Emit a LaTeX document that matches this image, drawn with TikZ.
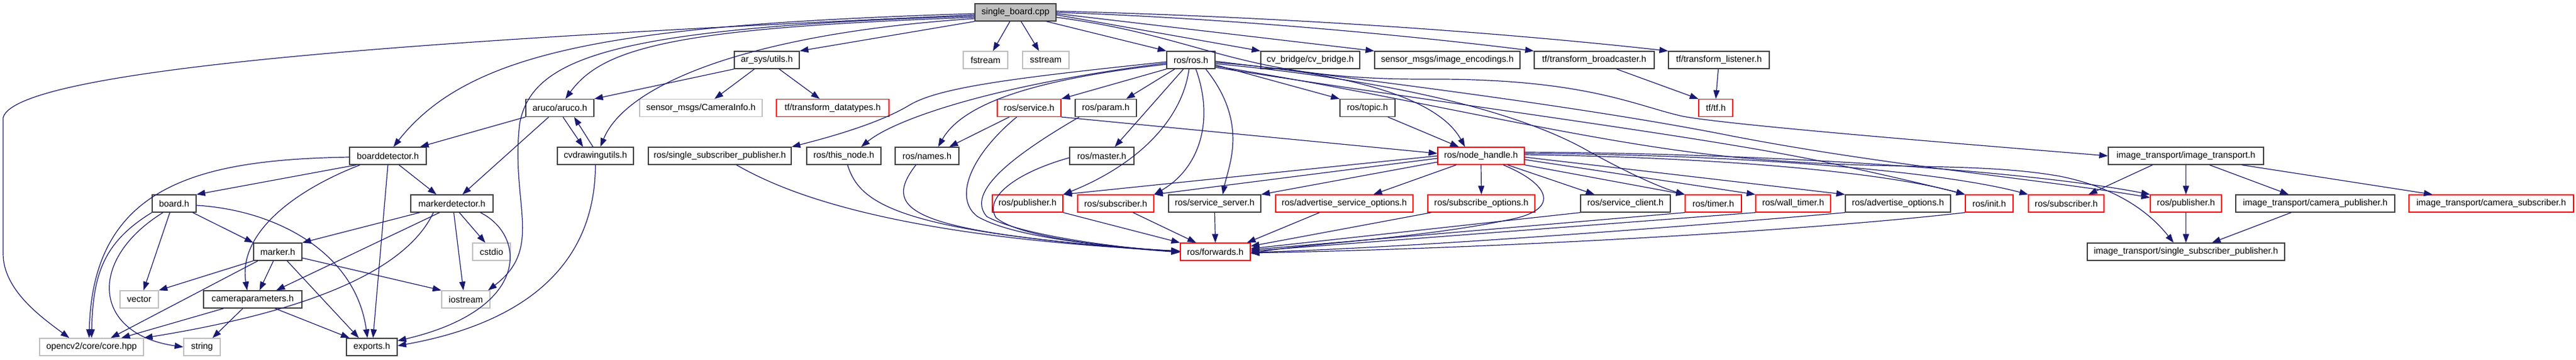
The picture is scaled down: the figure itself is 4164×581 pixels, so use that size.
\documentclass[tikz,border=0pt]{standalone}
\usepackage{fontspec}
\setmainfont{Liberation Sans}
\usetikzlibrary{arrows.meta}
\definecolor{depblue}{HTML}{191970}
\definecolor{sysgray}{HTML}{BFBFBF}
\newcommand\hdrfont{\fontsize{14.4}{17}\selectfont}
\tikzset{
  hdr/.style={draw=black!75, line width=1.3pt, fill=white, minimum height=28, inner sep=0pt, font=\hdrfont},
  syshdr/.style={hdr, draw=sysgray},
  redhdr/.style={hdr, draw=red},
  roothdr/.style={hdr, fill=sysgray},
  dep/.style={depblue, line width=1.2pt, -{Triangle[length=14pt,width=10pt]}},
}
\begin{document}
\begin{tikzpicture}[x=1pt,y=-1pt]
\useasboundingbox (0,0) rectangle (4164,581);
% row 1 and 2
\node[roothdr, minimum width=131] (root) at (1641.5,20) {single\_board.cpp};
\node[syshdr, minimum width=72] (fstream) at (1593,97) {fstream};
\node[syshdr, minimum width=75] (sstream) at (1690.5,97) {sstream};
\node[hdr, minimum width=78] (ros) at (1925,97) {ros/ros.h};
\node[hdr, minimum width=160] (cvbridge) at (2118,97) {cv\_bridge/cv\_bridge.h};
\node[hdr, minimum width=235] (imgenc) at (2339.5,97) {sensor\_msgs/image\_encodings.h};
\node[hdr, minimum width=194] (tfbroad) at (2577,97) {tf/transform\_broadcaster.h};
\node[hdr, minimum width=163] (tflisten) at (2778.5,97) {tf/transform\_listener.h};
\node[hdr, minimum width=105] (utils) at (1239.5,97) {ar\_sys/utils.h};
% row 3
\node[hdr, minimum width=110] (aruco) at (905,174.5) {aruco/aruco.h};
\node[syshdr, minimum width=198] (caminfo) at (1133,174.5) {sensor\_msgs/CameraInfo.h};
\node[redhdr, minimum width=182] (tfdata) at (1346,174.5) {tf/transform\_datatypes.h};
\node[redhdr, minimum width=103] (service) at (1663.5,174.5) {ros/service.h};
\node[hdr, minimum width=99] (param) at (1787.5,174.5) {ros/param.h};
\node[hdr, minimum width=89] (topic) at (2210.5,174.5) {ros/topic.h};
\node[redhdr, minimum width=55] (tf) at (2773.5,174.5) {tf/tf.h};
% row 4
\node[hdr, minimum width=124] (boarddet) at (627,252) {boarddetector.h};
\node[hdr, minimum width=123] (cvdraw) at (962.5,252) {cvdrawingutils.h};
\node[hdr, minimum width=231] (rsspub) at (1163.5,252) {ros/single\_subscriber\_publisher.h};
\node[hdr, minimum width=120] (thisnode) at (1364,252) {ros/this\_node.h};
\node[hdr, minimum width=103] (names) at (1498.5,252) {ros/names.h};
\node[hdr, minimum width=104] (master) at (1781,252) {ros/master.h};
\node[redhdr, minimum width=140] (nodeh) at (2394,252) {ros/node\_handle.h};
\node[hdr, minimum width=251] (imgtr) at (3533.5,252) {image\_transport/image\_transport.h};
% row 5
\node[hdr, minimum width=71] (board) at (281.5,329) {board.h};
\node[hdr, minimum width=133] (markerdet) at (730.5,329) {markerdetector.h};
\node[redhdr, minimum width=114] (pub) at (1661,329) {ros/publisher.h};
\node[redhdr, minimum width=123] (sub) at (1803.5,329) {ros/subscriber.h};
\node[hdr, minimum width=149] (srvserver) at (1963.5,329) {ros/service\_server.h};
\node[redhdr, minimum width=222] (advsrvopt) at (2173,329) {ros/advertise\_service\_options.h};
\node[redhdr, minimum width=173] (subopt) at (2394.5,329) {ros/subscribe\_options.h};
\node[hdr, minimum width=145] (srvclient) at (2627.5,329) {ros/service\_client.h};
\node[redhdr, minimum width=91] (timer) at (2769.5,329) {ros/timer.h};
\node[redhdr, minimum width=121] (walltimer) at (2898.5,329) {ros/wall\_timer.h};
\node[hdr, minimum width=170] (advopt) at (3068,329) {ros/advertise\_options.h};
\node[redhdr, minimum width=77] (init) at (3215.5,329) {ros/init.h};
\node[redhdr, minimum width=122] (subtwo) at (3340,329) {ros/subscriber.h};
\node[redhdr, minimum width=115] (pubtwo) at (3533.5,329) {ros/publisher.h};
\node[hdr, minimum width=257] (campub) at (3742.5,329) {image\_transport/camera\_publisher.h};
\node[redhdr, minimum width=266] (camsub) at (4027,329) {image\_transport/camera\_subscriber.h};
% row 6 to 8
\node[hdr, minimum width=78] (marker) at (449,407) {marker.h};
\node[syshdr, minimum width=61] (cstdio) at (794.5,407) {cstdio};
\node[redhdr, minimum width=113] (forwards) at (1964.5,407) {ros/forwards.h};
\node[hdr, minimum width=319] (itsspub) at (3533.5,407) {image\_transport/single\_subscriber\_publisher.h};
\node[syshdr, minimum width=62] (vector) at (225,484) {vector};
\node[hdr, minimum width=159] (campar) at (408.5,484) {cameraparameters.h};
\node[syshdr, minimum width=78] (iostream) at (753,484) {iostream};
\node[syshdr, minimum width=168] (opencv) at (148,561) {opencv2/core/core.hpp};
\node[syshdr, minimum width=59] (string) at (326.5,561) {string};
\node[hdr, minimum width=82] (exports) at (601,561) {exports.h};

% single_board.cpp
\draw[dep] ([yshift=-4]root.west) .. controls (900,55) and (30,100) .. (5,190) -- (5,410) .. controls (5,470) and (70,515) .. ([xshift=-36]opencv.north);
\draw[dep] ([yshift=-2]root.west) .. controls (1000,40) and (760,80) .. ([xshift=9]boarddet.north);
\draw[dep] ([yshift=-6]root.west) .. controls (1000,45) and (860,90) .. (840,200) .. controls (825,330) and (880,400) .. ([xshift=36]iostream.north);
\draw[dep] ([yshift=-8]root.west) .. controls (1100,45) and (975,75) .. ([xshift=9]aruco.north);
\draw[dep] ([yshift=-10]root.west) .. controls (1200,55) and (1010,140) .. ([xshift=8]cvdraw.north);
\draw[dep] (root.south west) -- (utils.north east);
\draw[dep] ([xshift=-9]root.south) -- ([xshift=12]fstream.north);
\draw[dep] ([xshift=9]root.south) -- ([xshift=-11]sstream.north);
\draw[dep] ([xshift=50]root.south) -- (ros.north west);
\draw[dep] ([yshift=-4]root.east) -- (cvbridge.north west);
\draw[dep] ([yshift=-2]root.east) -- (imgenc.north west);
\draw[dep] (root.east) .. controls (2000,30) and (2300,60) .. (tfbroad.north west);
\draw[dep] ([yshift=2]root.east) .. controls (2100,28) and (2450,55) .. (tflisten.north west);
\draw[dep] ([yshift=-8]root.east) .. controls (1950,60) and (2000,128) .. (2300,128) .. controls (2560,126) and (2640,170) .. (2720,188) .. controls (2800,203) and (3200,235) .. (imgtr.west);

% ar_sys/utils.h, aruco.h, cvdrawingutils.h
\draw[dep] (utils.south west) -- (aruco.north east);
\draw[dep] ([xshift=-20]utils.south) -- ([xshift=22]caminfo.north);
\draw[dep] ([xshift=20]utils.south) -- ([xshift=-21]tfdata.north);
\draw[dep] (aruco.south west) -- ([xshift=52]boarddet.north);
\draw[dep] ([xshift=-18]aruco.south) -- ([xshift=17]markerdet.north);
\draw[dep] ([xshift=5]aruco.south) -- ([xshift=-20]cvdraw.north);
\draw[dep] ([xshift=-4]cvdraw.north) -- ([xshift=23]aruco.south);
\draw[dep] (cvdraw.south) .. controls (962,420) and (860,520) .. ([yshift=2]exports.east);

% boarddetector.h
\draw[dep] ([yshift=-2]boarddet.west) .. controls (320,258) and (150,300) .. ([xshift=-4]opencv.north);
\draw[dep] ([xshift=-51]boarddet.south) -- (board.north east);
\draw[dep] ([xshift=-45]boarddet.south) .. controls (470,310) and (385,380) .. ([xshift=-9]campar.north);
\draw[dep] (boarddet.south) -- ([xshift=2]exports.north);
\draw[dep] ([xshift=18]boarddet.south) -- ([xshift=-25]markerdet.north);

% board.h
\draw[dep] (board.south west) .. controls (170,390) and (150,440) .. (opencv.north);
\draw[dep] ([xshift=-18]board.south) .. controls (140,420) and (150,540) .. (string.west);
\draw[dep] ([xshift=-7]board.south) -- ([xshift=7]vector.north);
\draw[dep] ([xshift=30]board.south) -- (marker.north west);
\draw[dep] ([yshift=-3]board.east) .. controls (450,340) and (575,410) .. ([xshift=-7]exports.north);

% markerdetector.h
\draw[dep] ([xshift=-52]markerdet.south) -- (marker.north east);
\draw[dep] ([xshift=-20]markerdet.south) -- ([xshift=38]campar.north);
\draw[dep] ([xshift=-30]markerdet.south) .. controls (660,430) and (520,500) .. (opencv.north east);
\draw[dep] ([xshift=46]markerdet.south) .. controls (850,380) and (860,500) .. ([yshift=10]exports.east);
\draw[dep] ([xshift=12]markerdet.south) -- ([xshift=-10]cstdio.north);
\draw[dep] ([xshift=3]markerdet.south) -- ([xshift=-4]iostream.north);

% marker.h, cameraparameters.h
\draw[dep] (marker.south west) -- (vector.north east);
\draw[dep] ([xshift=-32]marker.south) -- ([xshift=31]opencv.north);
\draw[dep] ([xshift=-7]marker.south) -- ([xshift=11]campar.north);
\draw[dep] ([xshift=15]marker.south) -- ([xshift=-21]exports.north);
\draw[dep] ([yshift=-10]marker.east) -- (iostream.north west);
\draw[dep] ([xshift=-47]campar.south) -- ([xshift=48]opencv.north);
\draw[dep] ([xshift=-16]campar.south) -- ([xshift=17]string.north);
\draw[dep] ([xshift=36]campar.south) -- ([xshift=-36]exports.north);

% ros/ros.h
\draw[dep] ([yshift=-3]ros.west) .. controls (1650,125) and (1520,140) .. (1470,170) .. controls (1420,200) and (1340,222) .. (rsspub.north east);
\draw[dep] ([yshift=-5]ros.west) .. controls (1620,135) and (1450,190) .. ([xshift=28]thisnode.north);
\draw[dep] ([yshift=-7]ros.west) .. controls (1700,125) and (1560,160) .. ([xshift=18]names.north);
\draw[dep] (ros.south west) -- (service.north east);
\draw[dep] ([xshift=-26]ros.south) -- ([xshift=33]param.north);
\draw[dep] ([xshift=-12]ros.south) -- ([xshift=21]master.north);
\draw[dep] ([xshift=-3]ros.south) .. controls (1910,200) and (1830,270) .. (pub.north east);
\draw[dep] ([xshift=8]ros.south) .. controls (1965,200) and (1935,275) .. (sub.north east);
\draw[dep] ([xshift=24]ros.south) .. controls (2020,200) and (1985,270) .. ([xshift=13]srvserver.north);
\draw[dep] ([yshift=-8]ros.east) -- (topic.north west);
\draw[dep] ([yshift=-4]ros.east) .. controls (2150,115) and (2320,150) .. ([xshift=-26]nodeh.north);
\draw[dep] ([yshift=-6]ros.east) .. controls (2250,130) and (2450,180) .. (2560,240) .. controls (2640,285) and (2690,305) .. (timer.north west);
\draw[dep] ([yshift=-2]ros.east) .. controls (2300,140) and (2600,180) .. (2800,220) .. controls (3050,268) and (3300,290) .. ([yshift=-5]pubtwo.north west);
\draw[dep] ([yshift=-10]ros.east) .. controls (2300,160) and (2600,240) .. (2850,258) .. controls (3050,275) and (3200,262) .. (3330,285) .. controls (3430,305) and (3480,350) .. ([xshift=-20]itsspub.north);
\draw[dep] ([yshift=-12]ros.east) .. controls (2350,170) and (2750,220) .. (2950,262) .. controls (3080,290) and (3140,305) .. (init.north west);
\draw[dep] ([xshift=33]topic.south) -- ([xshift=-36]nodeh.north);

% ros/service.h and the headers that lead to ros/forwards.h
\draw[dep] (service.south east) -- ([yshift=4]nodeh.west);
\draw[dep] ([xshift=-32]service.south) -- ([xshift=36]names.north);
\draw[dep] ([xshift=-20]service.south) .. controls (1570,250) and (1540,320) .. (1580,350) .. controls (1640,385) and (1800,400) .. ([yshift=1]forwards.west);
\draw[dep] ([xshift=-43]param.south) .. controls (1640,250) and (1560,310) .. (1595,350) .. controls (1650,380) and (1800,400) .. (forwards.west);
\draw[dep] ([yshift=-3]master.west) .. controls (1640,280) and (1590,320) .. (1610,352) .. controls (1650,385) and (1800,400) .. (forwards.west);
\draw[dep] ([xshift=-18]names.south) .. controls (1420,345) and (1480,375) .. ([yshift=-1]forwards.west);
\draw[dep] ([xshift=6]thisnode.south) .. controls (1390,330) and (1450,375) .. (forwards.west);
\draw[dep] ([xshift=27]rsspub.south) .. controls (1300,330) and (1500,385) .. ([yshift=1]forwards.west);
\draw[dep] (pub.south east) -- (forwards.north west);
\draw[dep] ([xshift=28]sub.south) -- ([xshift=-31]forwards.north);
\draw[dep] (srvserver.south) -- (forwards.north);

% ros/node_handle.h
\draw[dep] (nodeh.west) -- (pub.north east);
\draw[dep] ([yshift=-4]nodeh.west) -- (sub.north east);
\draw[dep] ([yshift=-10]nodeh.west) -- (srvserver.north east);
\draw[dep] ([xshift=-40]nodeh.south) -- ([xshift=47]advsrvopt.north);
\draw[dep] (nodeh.south) -- (subopt.north);
\draw[dep] ([xshift=43]nodeh.south) -- ([xshift=-50]srvclient.north);
\draw[dep] (nodeh.south east) -- (timer.north west);
\draw[dep] ([yshift=-6]nodeh.east) -- (walltimer.north west);
\draw[dep] ([yshift=-2]nodeh.east) -- (advopt.north west);
\draw[dep] ([yshift=2]nodeh.east) .. controls (2800,255) and (3050,280) .. (init.north west);
\draw[dep] ([yshift=4]nodeh.east) .. controls (2850,250) and (3150,280) .. (subtwo.north west);
\draw[dep] ([yshift=6]nodeh.east) .. controls (2900,248) and (3300,280) .. (pubtwo.north west);
\draw[dep] ([xshift=36]nodeh.south) .. controls (2510,300) and (2520,340) .. (2440,355) .. controls (2300,385) and (2100,395) .. ([yshift=-3]forwards.east);

% remaining headers that lead to ros/forwards.h
\draw[dep] ([xshift=-40]advsrvopt.south) -- ([xshift=-6]forwards.north east);
\draw[dep] ([xshift=6]subopt.south west) -- ([yshift=9]forwards.east);
\draw[dep] (srvclient.south west) -- ([yshift=5]forwards.east);
\draw[dep] (timer.south west) -- ([yshift=3]forwards.east);
\draw[dep] (walltimer.south west) -- ([yshift=1]forwards.east);
\draw[dep] (advopt.south west) .. controls (2800,360) and (2300,400) .. ([yshift=-1]forwards.east);
\draw[dep] (init.south west) .. controls (2900,375) and (2400,402) .. ([yshift=-2]forwards.east);

% tf and image_transport
\draw[dep] ([xshift=36]tfbroad.south) -- (tf.north west);
\draw[dep] ([xshift=-1]tflisten.south) -- (tf.north);
\draw[dep] (imgtr.south) -- (pubtwo.north);
\draw[dep] ([xshift=-54]imgtr.south) -- ([xshift=36]subtwo.north);
\draw[dep] ([xshift=38]imgtr.south) -- ([xshift=-43]campub.north);
\draw[dep] ([xshift=90]imgtr.south) -- ([xshift=-95]camsub.north);
\draw[dep] (pubtwo.south) -- (itsspub.north);
\draw[dep] ([xshift=-39]campub.south) -- ([xshift=42]itsspub.north);
\end{tikzpicture}
\end{document}
